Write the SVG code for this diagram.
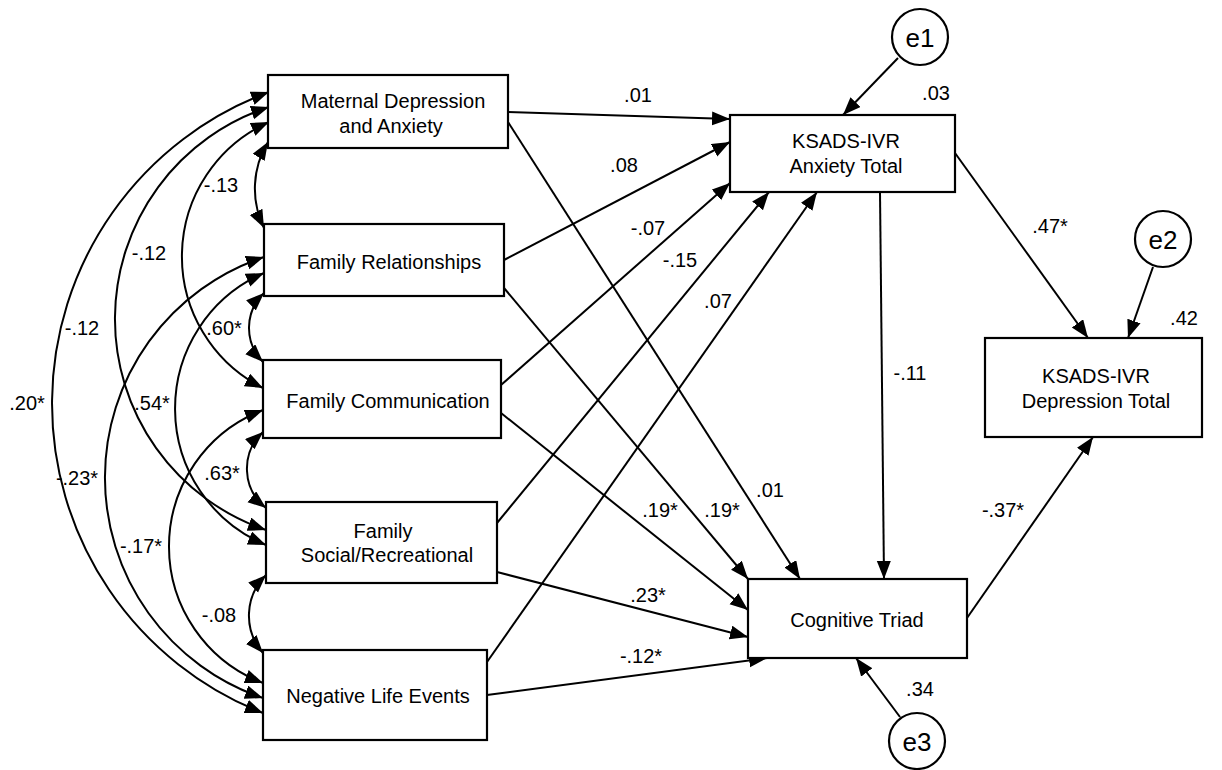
<svg xmlns="http://www.w3.org/2000/svg" width="1222" height="770" viewBox="0 0 1222 770">
  <style>
    .box { fill: #fff; stroke: #000; stroke-width: 2.2; }
    .err { fill: #fff; stroke: #000; stroke-width: 2.2; }
    .lbl { font-family: "Liberation Sans", Arial, sans-serif; font-size: 20px; fill: #000; text-anchor: middle; }
    .etxt { font-family: "Liberation Sans", Arial, sans-serif; font-size: 26px; fill: #000; text-anchor: middle; }
    .path { fill: none; stroke: #000; stroke-width: 2; marker-end: url(#ah); }
    .cov { fill: none; stroke: #000; stroke-width: 2; marker-start: url(#ah); marker-end: url(#ah); }
  </style>
  <defs>
    <marker id="ah" markerUnits="userSpaceOnUse" markerWidth="19" markerHeight="15" refX="18" refY="7" orient="auto-start-reverse">
      <path d="M0,0 L18,7 L0,14 z" fill="#000"/>
    </marker>
  </defs>
  <rect width="1222" height="770" fill="#fff"/>

  <!-- connectors -->
  <g id="connectors">
    <!-- covariances among exogenous variables -->
    <path class="cov" d="M269,92 A332.3,332.3 0 0 0 263,713"/>
    <path class="cov" d="M269,107 A222.9,222.9 0 0 0 266,530"/>
    <path class="cov" d="M269,122 A147.3,147.3 0 0 0 263,388"/>
    <path class="cov" d="M268,142 A89.5,89.5 0 0 0 264,228"/>
    <path class="cov" d="M264,257 A232.6,232.6 0 0 0 263,698"/>
    <path class="cov" d="M264,273 A147.8,147.8 0 0 0 266,545"/>
    <path class="cov" d="M264,293 A48.3,48.3 0 0 0 263,362"/>
    <path class="cov" d="M263,410 A146.1,146.1 0 0 0 263,683"/>
    <path class="cov" d="M263,432 A50,50 0 0 0 266,508"/>
    <path class="cov" d="M266,575 A56.8,56.8 0 0 0 263,653"/>

    <!-- regression paths -->
    <line class="path" x1="508" y1="112" x2="730" y2="119"/>
    <line class="path" x1="504" y1="260" x2="730" y2="142"/>
    <line class="path" x1="501" y1="385" x2="730" y2="183"/>
    <line class="path" x1="497" y1="523" x2="769" y2="192"/>
    <line class="path" x1="487" y1="662" x2="817" y2="192"/>
    <line class="path" x1="508" y1="122" x2="800" y2="579"/>
    <line class="path" x1="504" y1="288" x2="748" y2="579"/>
    <line class="path" x1="501" y1="413" x2="748" y2="610"/>
    <line class="path" x1="497" y1="572" x2="748" y2="637"/>
    <line class="path" x1="487" y1="695" x2="767" y2="658"/>
    <line class="path" x1="880" y1="192" x2="884" y2="579"/>
    <line class="path" x1="955" y1="153" x2="1088" y2="338"/>
    <line class="path" x1="967" y1="618" x2="1093" y2="437"/>
    <line class="path" x1="898" y1="58" x2="843" y2="115"/>
    <line class="path" x1="1153" y1="267" x2="1128" y2="338"/>
    <line class="path" x1="900" y1="717" x2="856" y2="658"/>

    <!-- coefficient labels -->
    <text class="lbl" x="221" y="192">-.13</text>
    <text class="lbl" x="149" y="260">-.12</text>
    <text class="lbl" x="82" y="335">-.12</text>
    <text class="lbl" x="27" y="410">.20*</text>
    <text class="lbl" x="224" y="335">.60*</text>
    <text class="lbl" x="152" y="410">.54*</text>
    <text class="lbl" x="77" y="485">-.23*</text>
    <text class="lbl" x="222" y="480">.63*</text>
    <text class="lbl" x="141" y="553">-.17*</text>
    <text class="lbl" x="219" y="622">-.08</text>

    <text class="lbl" x="638" y="102">.01</text>
    <text class="lbl" x="624" y="172">.08</text>
    <text class="lbl" x="648" y="235">-.07</text>
    <text class="lbl" x="680" y="267">-.15</text>
    <text class="lbl" x="718" y="308">.07</text>
    <text class="lbl" x="770" y="497">.01</text>
    <text class="lbl" x="722" y="517">.19*</text>
    <text class="lbl" x="660" y="517">.19*</text>
    <text class="lbl" x="648" y="602">.23*</text>
    <text class="lbl" x="641" y="663">-.12*</text>
    <text class="lbl" x="910" y="380">-.11</text>
    <text class="lbl" x="1050" y="233">.47*</text>
    <text class="lbl" x="1003" y="517">-.37*</text>
  </g>

  <!-- observed variables -->
  <g id="maternal">
    <rect class="box" x="268" y="75" width="240" height="73"/>
    <text class="lbl" x="393" y="108">Maternal Depression</text>
    <text class="lbl" x="391" y="133">and Anxiety</text>
  </g>
  <g id="relationships">
    <rect class="box" x="264" y="224" width="240" height="72"/>
    <text class="lbl" x="389" y="269">Family Relationships</text>
  </g>
  <g id="communication">
    <rect class="box" x="263" y="360" width="238" height="78"/>
    <text class="lbl" x="388" y="408">Family Communication</text>
  </g>
  <g id="social">
    <rect class="box" x="266" y="502" width="231" height="81"/>
    <text class="lbl" x="383" y="538">Family</text>
    <text class="lbl" x="387" y="562">Social/Recreational</text>
  </g>
  <g id="negative">
    <rect class="box" x="263" y="650" width="224" height="90"/>
    <text class="lbl" x="378" y="703">Negative Life Events</text>
  </g>
  <g id="anxiety">
    <rect class="box" x="730" y="115" width="225" height="77"/>
    <text class="lbl" x="846" y="148">KSADS-IVR</text>
    <text class="lbl" x="846" y="173">Anxiety Total</text>
    <text class="lbl" x="936" y="100">.03</text>
  </g>
  <g id="depression">
    <rect class="box" x="985" y="338" width="217" height="99"/>
    <text class="lbl" x="1096" y="383">KSADS-IVR</text>
    <text class="lbl" x="1096" y="408">Depression Total</text>
    <text class="lbl" x="1184" y="325">.42</text>
  </g>
  <g id="cognitive">
    <rect class="box" x="748" y="579" width="219" height="79"/>
    <text class="lbl" x="857" y="627">Cognitive Triad</text>
    <text class="lbl" x="920" y="696">.34</text>
  </g>

  <!-- error terms -->
  <g id="e1">
    <circle class="err" cx="920" cy="37" r="28"/>
    <text class="etxt" x="920" y="47">e1</text>
  </g>
  <g id="e2">
    <circle class="err" cx="1163" cy="239" r="28"/>
    <text class="etxt" x="1163" y="249">e2</text>
  </g>
  <g id="e3">
    <circle class="err" cx="917" cy="741" r="28"/>
    <text class="etxt" x="917" y="751">e3</text>
  </g>
</svg>
